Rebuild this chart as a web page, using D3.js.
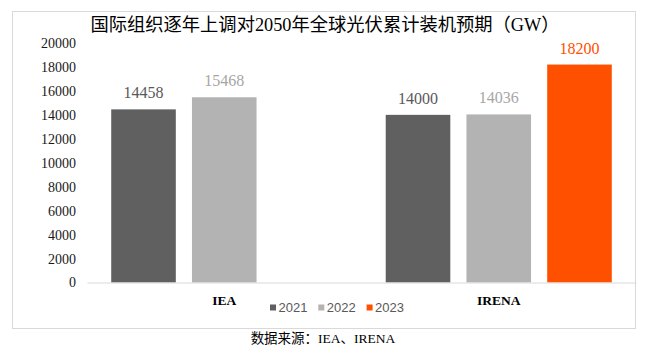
<!DOCTYPE html>
<html>
<head>
<meta charset="utf-8">
<script src="https://cdn.jsdelivr.net/npm/d3@7"></script>
<style>
  body { margin: 0; background: #fff; }
  svg { display: block; }
  .serif { font-family: "Liberation Serif", "Noto Sans CJK SC", serif; }
</style>
</head>
<body>
<svg width="645" height="354"></svg>
<script>
(function (d3) {
  "use strict";

  // data
  const categories = ["IEA", "IRENA"];
  const years = ["2021", "2022", "2023"];
  const values2021 = [14458, 14000];
  const values2022 = [15468, 14036];
  const values2023 = [null, 18200];
  const yTicks = [0, 2000, 4000, 6000, 8000, 10000, 12000, 14000, 16000, 18000, 20000];

  const title = "国际组织逐年上调对2050年全球光伏累计装机预期（GW）";
  const source = "数据来源：IEA、IRENA";

  const barColors = ["#606060", "#b3b3b3", "#ff5000"];
  const labelColors = ["#595959", "#a6a6a6", "#ff5000"];

  const series = [values2021, values2022, values2023];
  const rows = categories.map((c, i) => ({
    category: c,
    values: years.map((y, j) => ({ year: y, idx: j, value: series[j][i] }))
  }));

  const svg = d3.select("svg");

  // chart frame
  svg.append("rect")
    .attr("x", 12.5).attr("y", 11.5)
    .attr("width", 623).attr("height", 317)
    .attr("fill", "#fff")
    .attr("stroke", "#d9d9d9");

  const margin = { left: 87, right: 636, top: 43, bottom: 282.5 };

  const x0 = d3.scaleBand()
    .domain(categories)
    .range([margin.left, margin.right]);

  const x1 = d3.scaleBand()
    .domain(years)
    .range([0, x0.bandwidth()])
    .paddingInner(0.2)
    .paddingOuter(0.3);

  const y = d3.scaleLinear()
    .domain([0, 20000])
    .range([margin.bottom, margin.top]);

  // y axis
  const yAxisG = svg.append("g")
    .attr("transform", `translate(${margin.left},0)`)
    .call(d3.axisLeft(y).tickValues(yTicks).tickFormat(d3.format("d")).tickSize(0).tickPadding(11));
  yAxisG.select(".domain").remove();
  yAxisG.selectAll("text")
    .attr("class", "serif")
    .attr("font-size", 14)
    .attr("fill", "#1a1a1a");

  // bars
  const groups = svg.selectAll(".grp")
    .data(rows)
    .enter()
    .append("g")
    .attr("class", "grp")
    .attr("transform", (d) => `translate(${x0(d.category)},0)`);

  const cells = groups.selectAll(".cell")
    .data((d) => d.values.filter((v) => v.value != null))
    .enter()
    .append("g")
    .attr("class", "cell");

  cells.append("rect")
    .attr("x", (d) => x1(d.year))
    .attr("y", (d) => y(d.value))
    .attr("width", x1.bandwidth())
    .attr("height", (d) => y(0) - y(d.value))
    .attr("fill", (d) => barColors[d.idx]);

  cells.append("text")
    .attr("class", "serif")
    .attr("x", (d) => x1(d.year) + x1.bandwidth() / 2)
    .attr("y", (d) => y(d.value) - 11)
    .attr("text-anchor", "middle")
    .attr("font-size", 16)
    .attr("fill", (d) => labelColors[d.idx])
    .text((d) => d.value);

  // x axis
  const xAxisG = svg.append("g")
    .attr("transform", `translate(0,${margin.bottom})`)
    .call(d3.axisBottom(x0).tickSize(0).tickSizeOuter(0).tickPadding(13));
  xAxisG.select(".domain").attr("stroke", "#d9d9d9");
  xAxisG.selectAll("text")
    .attr("class", "serif")
    .attr("font-size", 13.5)
    .attr("font-weight", "bold")
    .attr("fill", "#000");

  // legend
  const legend = svg.append("g").attr("transform", "translate(270,0)");
  const items = legend.selectAll(".item")
    .data(years)
    .enter()
    .append("g")
    .attr("transform", (d, i) => `translate(${i * 48.3},0)`);
  items.append("rect")
    .attr("x", 0).attr("y", 304.5)
    .attr("width", 6).attr("height", 6)
    .attr("fill", (d, i) => barColors[i]);
  items.append("text")
    .attr("x", 8.5).attr("y", 311.7)
    .attr("font-family", "Liberation Sans, Arial, sans-serif")
    .attr("font-size", 13)
    .attr("fill", "#595959")
    .text((d) => d);

  // title
  svg.append("text")
    .attr("class", "serif")
    .attr("x", 325)
    .attr("y", 31)
    .attr("text-anchor", "middle")
    .attr("font-size", 18.3)
    .attr("fill", "#000")
    .text(title);

  // source note
  svg.append("text")
    .attr("class", "serif")
    .attr("x", 323)
    .attr("y", 343)
    .attr("text-anchor", "middle")
    .attr("font-size", 13.5)
    .attr("fill", "#000")
    .text(source);
})(d3);
</script>
</body>
</html>
